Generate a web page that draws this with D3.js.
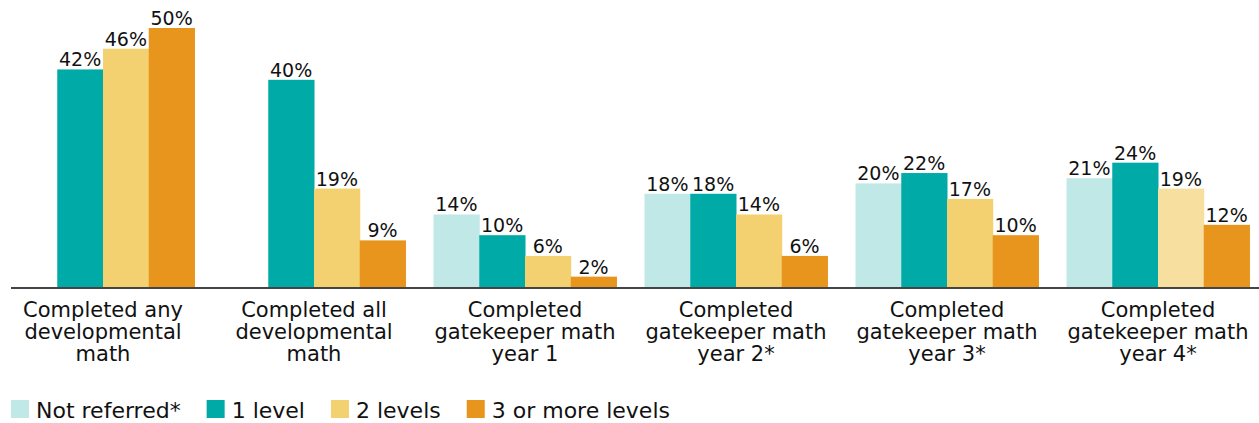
<!DOCTYPE html>
<html>
<head>
<meta charset="utf-8">
<script src="https://cdn.jsdelivr.net/npm/d3@7"></script>
<style>
  body { margin: 0; background: #fff; }
  svg { font-family: "DejaVu Sans", sans-serif; }
</style>
</head>
<body>
<div id="chart"></div>
<script>
// data
var categories = [
  ["Completed any", "developmental", "math"],
  ["Completed all", "developmental", "math"],
  ["Completed", "gatekeeper math", "year 1"],
  ["Completed", "gatekeeper math", "year 2*"],
  ["Completed", "gatekeeper math", "year 3*"],
  ["Completed", "gatekeeper math", "year 4*"]
];
var seriesNames = ["Not referred*", "1 level", "2 levels", "3 or more levels"];
var notReferred = [null, null, 14, 18, 20, 21];
var oneLevel = [42, 40, 10, 18, 22, 24];
var twoLevels = [46, 19, 6, 14, 17, 19];
var threeLevels = [50, 9, 2, 6, 10, 12];

var seriesValues = [notReferred, oneLevel, twoLevels, threeLevels];
var colors = ["#c0e8e7", "#00aaa6", "#f4d170", "#e8951d"];

var width = 1259, height = 423;
var baseY = 287;

var svg = d3.select("#chart").append("svg")
  .attr("width", width)
  .attr("height", height);

// x: one band per category, sub band per series
var x0 = d3.scaleBand()
  .domain(d3.range(categories.length))
  .range([-2.5, 1263.5])
  .paddingInner(0.133)
  .paddingOuter(0.0665);

var x1 = d3.scaleBand()
  .domain(d3.range(seriesNames.length))
  .range([0, x0.bandwidth()]);

var y = d3.scaleLinear()
  .domain([0, 50])
  .range([baseY, 28]);

// flatten into points
var points = [];
categories.forEach(function(c, i) {
  seriesValues.forEach(function(vals, s) {
    if (vals[i] != null) points.push({ cat: i, s: s, v: vals[i] });
  });
});

var g = svg.append("g");

g.selectAll("rect.bar")
  .data(points)
  .enter().append("rect")
  .attr("class", "bar")
  .attr("x", d => x0(d.cat) + x1(d.s))
  .attr("y", d => y(d.v))
  .attr("width", x1.bandwidth() + 0.5)
  .attr("height", d => baseY - y(d.v))
  .attr("fill", d => (d.cat === 5 && d.s === 2) ? "#f7dfa0" : colors[d.s]);

// value labels
g.selectAll("text.val")
  .data(points)
  .enter().append("text")
  .attr("class", "val")
  .attr("x", d => x0(d.cat) + x1(d.s) + x1.bandwidth() / 2)
  .attr("y", d => y(d.v) - 3)
  .attr("text-anchor", "middle")
  .attr("font-size", 19)
  .attr("fill", "#111")
  .text(d => d.v + "%");

// axis line
svg.append("line")
  .attr("x1", 11).attr("x2", 1259)
  .attr("y1", baseY + 1).attr("y2", baseY + 1)
  .attr("stroke", "#444")
  .attr("stroke-width", 2);

// category labels
var catLabels = svg.selectAll("text.cat")
  .data(categories)
  .enter().append("text")
  .attr("class", "cat")
  .attr("text-anchor", "middle")
  .attr("font-size", 21)
  .attr("fill", "#111");

catLabels.each(function(lines, i) {
  var t = d3.select(this);
  lines.forEach(function(line, k) {
    t.append("tspan")
      .attr("x", x0(i) + x0.bandwidth() / 2)
      .attr("y", 317 + k * 22)
      .text(line);
  });
});

// legend
var legend = svg.append("g").attr("transform", "translate(11,0)");
var lx = 0;
seriesNames.forEach(function(name, s) {
  legend.append("rect")
    .attr("x", lx).attr("y", 400)
    .attr("width", 18).attr("height", 18)
    .attr("fill", colors[s]);
  var t = legend.append("text")
    .attr("x", lx + 25).attr("y", 418)
    .attr("font-size", 22)
    .attr("fill", "#111")
    .text(name);
  lx += 25 + t.node().getComputedTextLength() + 26;
});
</script>
</body>
</html>
